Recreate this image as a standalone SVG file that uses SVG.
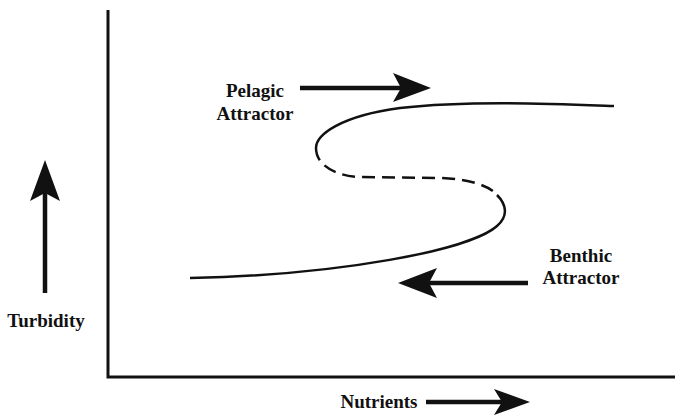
<svg xmlns="http://www.w3.org/2000/svg" width="675" height="416" viewBox="0 0 675 416">
<style>
.t{font-family:"Liberation Serif","Times New Roman","DejaVu Serif",serif;font-weight:bold;font-size:19px;fill:#111}
.ax{stroke:#111;stroke-width:3;fill:none}
.cv{stroke:#111;stroke-width:2.5;fill:none}
.ar{stroke:#111;stroke-width:4.5;fill:none}
.hd{fill:#111}
</style>
<rect width="675" height="416" fill="#fff"/>
<g id="axes">
<path class="ax" d="M108,10 L108,377 L675,377"/>
</g>
<g id="curve">
<path class="cv" d="M614,106 C560,104 470,100 400,108 C340,116 316,135 316,148"/>
<path class="cv" stroke-dasharray="13,7" d="M316,148 C316,165 335,176 360,177 L440,178 C470,179 490,186 497,195"/>
<path class="cv" d="M497,195 C506,204 509,216 497,226 C470,250 340,275 190,278"/>
</g>
<g id="connectors">
<path class="ar" d="M45,293 L45,190"/>
<path class="hd" d="M45,160 L60,201 L45,193 L30,201 Z"/>
<path class="ar" d="M300,88 L405,88"/>
<path class="hd" d="M431,88 L393,102 L401,88 L393,73 Z"/>
<path class="ar" d="M528,283 L425,283"/>
<path class="hd" d="M398,283 L437,268 L429,283 L437,298 Z"/>
<path class="ar" d="M426,402 L505,402"/>
<path class="hd" d="M530,402 L494,389 L502,402 L494,415 Z"/>
</g>
<g id="turbidity"><text class="t" x="46" y="327" text-anchor="middle">Turbidity</text></g>
<g id="nutrients"><text class="t" x="379" y="408" text-anchor="middle">Nutrients</text></g>
<g id="pelagic"><text class="t" x="255" y="97" text-anchor="middle">Pelagic</text><text class="t" x="255" y="120" text-anchor="middle">Attractor</text></g>
<g id="benthic"><text class="t" x="581" y="262" text-anchor="middle">Benthic</text><text class="t" x="581" y="284" text-anchor="middle">Attractor</text></g>
</svg>
